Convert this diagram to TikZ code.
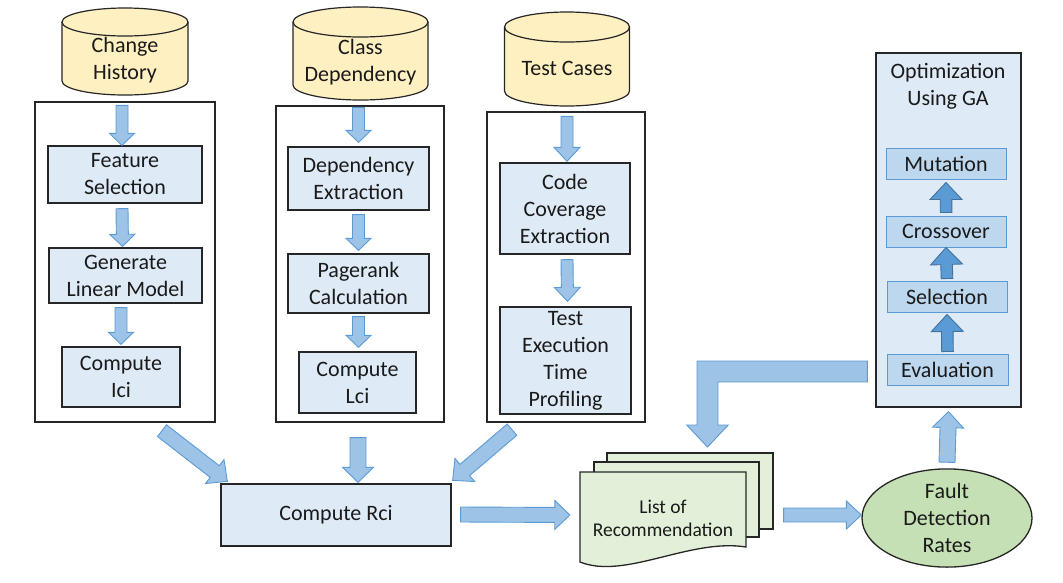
\documentclass[tikz,border=0pt]{standalone}
\usepackage{fontspec}
\setmainfont{Carlito}
\usetikzlibrary{calc,shapes.geometric}
\definecolor{procfill}{HTML}{DEEBF7}
\definecolor{arrfill}{HTML}{9DC3E6}
\definecolor{arrdraw}{HTML}{5B9BD5}
\definecolor{gaarr}{HTML}{5B9BD5}
\definecolor{gaarrdraw}{HTML}{41719C}
\definecolor{gabox}{HTML}{BDD7EE}
\definecolor{cylfill}{HTML}{FFF0C2}
\definecolor{docfill}{HTML}{E2F0D9}
\definecolor{ellfill}{HTML}{C5E0B4}
\definecolor{linec}{HTML}{262626}
\definecolor{textc}{HTML}{1A1A1A}

\newcommand\barrow[6][]{%
  \coordinate (bA) at (#2);
  \coordinate (bB) at (#3);
  \coordinate (bH) at ($(bB)!#6pt!(bA)$);
  \draw[blockarrow,#1] ($(bA)!#4pt!90:(bB)$) -- ($(bH)!#4pt!-90:(bA)$) -- ($(bH)!#5pt!-90:(bA)$) -- (bB) -- ($(bH)!#5pt!90:(bA)$) -- ($(bH)!#4pt!90:(bA)$) -- ($(bA)!#4pt!-90:(bB)$) -- cycle;}

\newcommand\cylpath[5]{% cx, ytop, ybot, a, b
  \draw[cylstyle] ({#1-#4},{#2+#5}) -- ({#1-#4},{#3-#5})
    arc[start angle=180,end angle=360,x radius=#4pt,y radius=#5pt]
    -- ({#1+#4},{#2+#5})
    arc[start angle=0,end angle=180,x radius=#4pt,y radius=#5pt] -- cycle;
  \draw[cylstyle,fill=none] ({#1-#4},{#2+#5})
    arc[start angle=180,end angle=360,x radius=#4pt,y radius=#5pt];}

\tikzset{
  frame/.style={draw=linec, line width=1.3pt, fill=white, inner sep=0pt},
  proc/.style={draw=linec, line width=1.3pt, fill=procfill, inner sep=0pt, align=center, text=textc, font=\fontsize{22}{27}\selectfont},
  gainner/.style={draw=arrdraw, line width=1pt, fill=gabox, inner sep=0pt, align=center, text=textc, font=\fontsize{22}{27}\selectfont, minimum width=120pt, minimum height=31pt},
  lbl/.style={inner sep=0pt, align=center, text=textc, font=\fontsize{22}{27}\selectfont},
  cylstyle/.style={draw=linec, line width=1.2pt, fill=cylfill},
  blockarrow/.style={draw=arrdraw, line width=0.9pt, fill=arrfill, line join=miter},
  gaarrow/.style={draw=gaarrdraw, fill=gaarr},
  docstyle/.style={draw=linec, line width=1.3pt, fill=docfill},
}

\begin{document}
\begin{tikzpicture}[x=1pt,y=-1pt]
\useasboundingbox (0,0) rectangle (1063,582);

% cylinders
\cylpath{125}{8}{95}{63}{14}
\node[lbl] (ch) at (125,60) {Change\\History};
\cylpath{360.5}{7}{100}{67.5}{15}
\node[lbl] (cd) at (360.5,62) {Class\\Dependency};
\cylpath{567}{12}{106}{62.5}{15}
\node[lbl] (tc) at (567,68) {Test Cases};

% frames
\node[frame, minimum width=180pt, minimum height=320pt] (b1) at (125,262) {};
\node[frame, minimum width=168pt, minimum height=316pt] (b2) at (360,264) {};
\node[frame, minimum width=158pt, minimum height=310pt] (b3) at (566,267) {};

% process boxes
\node[proc, minimum width=154pt, minimum height=57pt] (fs) at (125,174.5) {Feature\\Selection};
\node[proc, minimum width=153pt, minimum height=55pt] (glm) at (125.5,275.5) {Generate\\Linear Model};
\node[proc, minimum width=118pt, minimum height=60pt] (ici) at (121,377) {Compute\\Ici};
\node[proc, minimum width=141pt, minimum height=63pt] (de) at (358.5,178.5) {Dependency\\Extraction};
\node[proc, minimum width=141pt, minimum height=59pt] (pc) at (358.5,283.5) {Pagerank\\Calculation};
\node[proc, minimum width=117pt, minimum height=61pt] (lci) at (357.5,382.5) {Compute\\Lci};
\node[proc, minimum width=130pt, minimum height=91pt] (cce) at (565,208.5) {Code\\Coverage\\Extraction};
\node[proc, minimum width=131pt, minimum height=107pt] (tet) at (565.5,360.5) {Test\\Execution\\Time\\Profiling};
\node[proc, minimum width=230pt, minimum height=62pt] (rci) at (336,515) {Compute Rci};

% GA box
\node[proc, minimum width=145pt, minimum height=354pt] (ga) at (948.5,230) {};
\node[lbl] (gat) at (948,86) {Optimization\\Using GA};
\node[gainner] (mut) at (946,163.5) {Mutation};
\node[gainner] (cro) at (946,231.5) {Crossover};
\node[gainner] (sel) at (947,296.5) {Selection};
\node[gainner, minimum width=121pt] (eva) at (947.5,369.5) {Evaluation};

% documents
\node[docstyle, minimum width=166pt, minimum height=76pt, inner sep=0pt] (doc3) at (690,491) {};
\node[docstyle, minimum width=165pt, minimum height=75pt, inner sep=0pt] (doc2) at (676.5,499.5) {};
\draw[docstyle] (580,472) -- (746,472) -- (746,547)
  .. controls (690,538) and (625,580) .. (580,562) -- cycle;
\node[lbl, font=\fontsize{19.5}{23}\selectfont, minimum width=166pt] (lst) at (663,518) {List of\\Recommendation};

% ellipse
\node[ellipse, draw=linec, line width=1.3pt, fill=ellfill, minimum width=170pt, minimum height=90pt, inner sep=0pt, align=center, text=textc, font=\fontsize{22}{27}\selectfont] (fdr) at (947,518) {Fault\\Detection\\Rates};

% arrows inside box 1
\barrow{[yshift=-4pt,xshift=-3pt]b1.north -| fs.north}{[xshift=-3pt]fs.north}{6}{12.5}{12}
\barrow{[yshift=-5pt,xshift=-3pt]fs.south}{[xshift=-3pt,yshift=1pt]glm.north}{6}{12.5}{12}
\barrow{[yshift=-4pt]glm.south -| ici.north}{[yshift=2pt]ici.north}{6}{12.5}{12}
% arrows inside box 2
\barrow{[yshift=-2pt]b2.north -| de.north}{[yshift=4pt]de.north}{6}{12.5}{12}
\barrow{[yshift=-4pt]de.south}{[yshift=3pt]pc.north}{6}{12.5}{12}
\barrow{[yshift=-3pt]pc.south -| de.south}{[yshift=4pt]lci.north -| de.north}{6}{12.5}{12}
% arrows inside box 3
\barrow{[yshift=-5pt,xshift=2pt]b3.north -| cce.north}{[xshift=2pt,yshift=1pt]cce.north}{6}{13}{14}
\barrow{[yshift=-5pt,xshift=2pt]cce.south}{[xshift=2pt,yshift=5pt]tet.north}{6}{13}{14}

% arrows to Compute Rci
\barrow{$(b1.south)+(37,8)$}{$(rci.north west)+(7,-2)$}{7.4}{15.2}{16}
\barrow{$(b2.south)+(-2,15)$}{$(rci.north -| b2.south)+(-2,-1)$}{8}{15.5}{15}
\barrow{$(b3.south)+(-54,7)$}{$(rci.north east)+(1,-3)$}{7.4}{15.2}{16}

% horizontal arrows
\barrow{$(rci.east)+(9,-0.5)$}{$(lst.west |- rci.east)+(-10,0)$}{7.5}{14.5}{15}
\barrow{$(doc3.east |- fdr.west)+(10,-3)$}{[yshift=3pt]fdr.west}{7}{14}{15}
\barrow{[yshift=6pt]fdr.north}{[yshift=-4pt]ga.south}{8}{15.5}{16}

% GA internal arrows
\barrow[gaarrow]{[yshift=2pt]eva.north}{[yshift=-2pt]sel.south}{5.8}{16}{17}
\barrow[gaarrow]{[yshift=2pt]sel.north}{cro.south}{5.8}{16}{17}
\barrow[gaarrow]{[yshift=3pt]cro.north}{[yshift=-3pt]mut.south}{5.8}{16}{17}

% L-shaped arrow from GA back to the list
\coordinate (lA) at ($(ga.west)+(-8,0)$);
\draw[blockarrow] (lA |- 0,361) -- (697,361) -- (697,425) -- (686.7,425) -- (707.5,447)
  -- (728.3,425) -- (718,425) -- (718,382) -- (lA |- 0,382) -- cycle;
\end{tikzpicture}
\end{document}
